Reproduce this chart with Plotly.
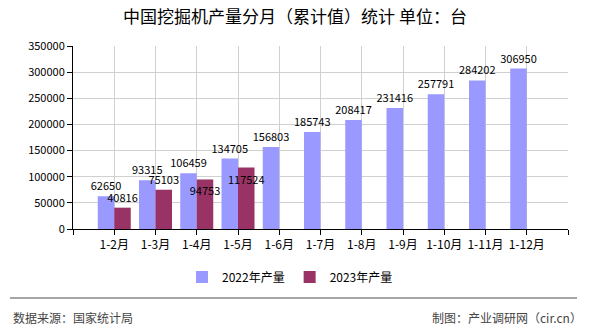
import plotly.graph_objects as go

months = ["1-2月", "1-3月", "1-4月", "1-5月", "1-6月", "1-7月", "1-8月", "1-9月", "1-10月", "1-11月", "1-12月"]
prod_2022 = [62650, 93315, 106459, 134705, 156803, 185743, 208417, 231416, 257791, 284202, 306950]
prod_2023 = [40816, 75103, 94753, 117524]
pos_2023 = ["outside", "outside", "inside", "inside"]
y_ticks = [0, 50000, 100000, 150000, 200000, 250000, 300000, 350000]

FONT = "Noto Sans CJK SC, SimSun, sans-serif"

L, R, T, B = 73, 22, 46, 101
W, H = 590, 330
pw = W - L - R
ph = H - T - B

def px_x(x):
    return (x - L) / pw

def px_y(y):
    return (H - B - y) / ph

idx = list(range(len(months)))

fig = go.Figure()
fig.add_trace(go.Bar(
    name="2022年产量", x=idx, y=prod_2022,
    marker=dict(color="#9999FF", line=dict(width=0)),
    text=[str(v) for v in prod_2022], textposition="outside",
    textangle=0,
    textfont=dict(family=FONT, size=11, color="#000000"),
    constraintext="none", cliponaxis=False,
))
fig.add_trace(go.Bar(
    name="2023年产量", x=idx[:len(prod_2023)], y=prod_2023,
    marker=dict(color="#993366", line=dict(width=0)),
    text=[str(v) for v in prod_2023], textposition=pos_2023,
    insidetextanchor="end", textangle=0,
    textfont=dict(family=FONT, size=11, color="#000000"),
    insidetextfont=dict(family=FONT, size=11, color="#000000"),
    outsidetextfont=dict(family=FONT, size=11, color="#000000"),
    constraintext="none", cliponaxis=False,
))

fig.update_layout(
    width=W, height=H,
    margin=dict(l=L, r=R, t=T, b=B, pad=0),
    paper_bgcolor="white", plot_bgcolor="white",
    barmode="group", bargap=0.2, bargroupgap=0,
    font=dict(family=FONT, size=11, color="#000000"),
    title=dict(text="中国挖掘机产量分月（累计值）统计 单位：台",
               x=0.5, xanchor="center", y=1 - 17 / H, yanchor="middle",
               yref="container",
               font=dict(family=FONT, size=17, color="#000000")),
    showlegend=True,
    legend=dict(orientation="h", x=px_x(290), xanchor="center",
                y=px_y(277), yanchor="middle",
                font=dict(family=FONT, size=12, color="#000000"),
                itemwidth=30, traceorder="normal"),
    xaxis=dict(
        range=[-1, len(months)],
        tickvals=[-1] + idx + [len(months)],
        ticktext=[""] + months + [""],
        showgrid=True, gridcolor="#D0D0D0", gridwidth=1,
        showline=True, linecolor="#000000", linewidth=1,
        ticks="outside", ticklen=5, tickcolor="#000000",
        tickfont=dict(family=FONT, size=12, color="#000000"),
        zeroline=False, fixedrange=True,
    ),
    yaxis=dict(
        range=[0, 350000],
        tickvals=y_ticks,
        ticktext=[str(v) for v in y_ticks],
        showgrid=True, gridcolor="#D0D0D0", gridwidth=1,
        showline=True, linecolor="#000000", linewidth=1,
        ticks="outside", ticklen=5, tickcolor="#000000",
        tickfont=dict(family=FONT, size=11, color="#000000"),
        zeroline=False, fixedrange=True,
    ),
    shapes=[
        dict(type="line", xref="paper", yref="paper",
             x0=px_x(10), x1=px_x(577), y0=px_y(298), y1=px_y(298),
             line=dict(color="#888888", width=1.5)),
    ],
    annotations=[
        dict(text="数据来源：国家统计局", xref="paper", yref="paper",
             x=px_x(11), y=px_y(317), xanchor="left", yanchor="middle",
             showarrow=False, font=dict(family=FONT, size=12, color="#444444")),
        dict(text="制图：产业调研网（cir.cn）", xref="paper", yref="paper",
             x=px_x(584), y=px_y(317), xanchor="right", yanchor="middle",
             showarrow=False, font=dict(family=FONT, size=12, color="#444444")),
    ],
)

fig.write_html("out.html")
